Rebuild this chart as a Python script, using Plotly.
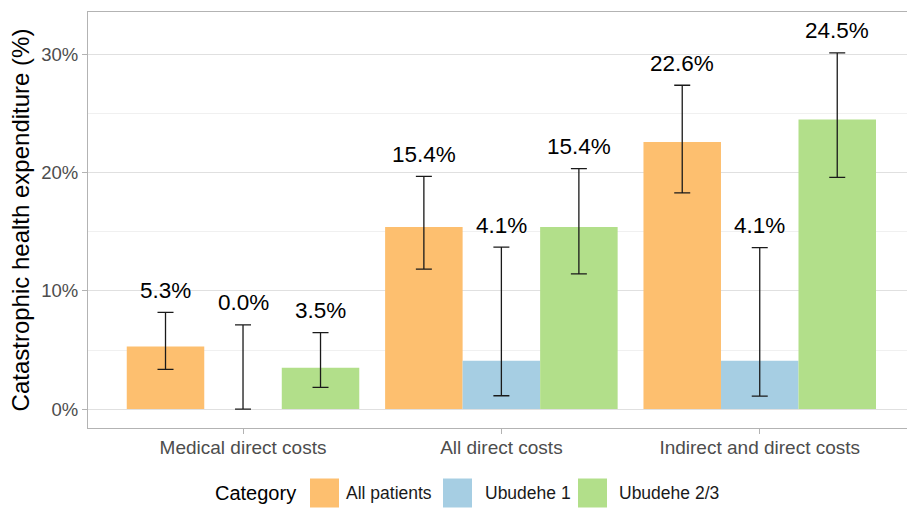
import plotly.graph_objects as go

# ---- data ----
categories = ["Medical direct costs", "All direct costs", "Indirect and direct costs"]
groups = ["All patients", "Ubudehe 1", "Ubudehe 2/3"]
colors = ["#FDBF6F", "#A6CEE3", "#B2DF8A"]

all_patients = [5.3, 15.4, 22.6]
all_patients_lo = [3.36, 11.84, 18.3]
all_patients_hi = [8.19, 19.69, 27.4]

ubudehe1 = [0.0, 4.1, 4.1]
ubudehe1_lo = [0.0, 1.13, 1.1]
ubudehe1_hi = [7.12, 13.7, 13.67]

ubudehe23 = [3.5, 15.4, 24.5]
ubudehe23_lo = [1.84, 11.44, 19.6]
ubudehe23_hi = [6.47, 20.34, 30.14]

y_ticks = [0, 10, 20, 30]
y_tick_labels = ["0%", "10%", "20%", "30%"]
y_minor = [5, 15, 25]

series = [
    (all_patients, all_patients_lo, all_patients_hi),
    (ubudehe1, ubudehe1_lo, ubudehe1_hi),
    (ubudehe23, ubudehe23_lo, ubudehe23_hi),
]

BAR_W = 0.3
FONT = "Liberation Sans, Arial, Helvetica, sans-serif"

fig = go.Figure()
annotations = []
for k, (vals, lo, hi) in enumerate(series):
    xs = [i + (k - 1) * BAR_W for i in range(len(categories))]
    fig.add_trace(go.Bar(
        x=xs, y=vals, width=BAR_W, name=groups[k],
        marker=dict(color=colors[k], line=dict(width=0)),
        error_y=dict(type="data", symmetric=False,
                     array=[h - v for h, v in zip(hi, vals)],
                     arrayminus=[v - l for v, l in zip(vals, lo)],
                     color="#1a1a1a", thickness=1.3, width=8),
        showlegend=False, hoverinfo="skip",
    ))
    for x, v, h in zip(xs, vals, hi):
        annotations.append(dict(
            x=x, y=h, xref="x", yref="y", text=f"{v:.1f}%",
            showarrow=False, yanchor="middle", xanchor="center", yshift=22,
            font=dict(size=22.5, color="#000000", family=FONT),
        ))

# ---- custom legend below the plot (pixel layout -> paper coords) ----
L, R, T, B = 88, 907, 12, 428
PW, PH = R - L, B - T
def px(xp):
    return (xp - L) / PW
def py(yp):
    return (B - yp) / PH

leg_y = 493
annotations.append(dict(x=px(213), y=py(leg_y), xref="paper", yref="paper",
                        text="Category", showarrow=False, xanchor="left", yanchor="middle",
                        font=dict(size=20, color="#000000", family=FONT)))
sw_left = [310, 443, 578]
lab_left = [344, 483, 617]
shapes = []
for k in range(3):
    shapes.append(dict(type="rect", xref="paper", yref="paper",
                       x0=px(sw_left[k]), x1=px(sw_left[k] + 29),
                       y0=py(leg_y + 14.5), y1=py(leg_y - 14.5),
                       fillcolor=colors[k], line=dict(width=0), layer="above"))
    annotations.append(dict(x=px(lab_left[k]), y=py(leg_y), xref="paper", yref="paper",
                            text=groups[k], showarrow=False, xanchor="left", yanchor="middle",
                            font=dict(size=17.5, color="#1a1a1a", family=FONT)))

fig.update_layout(
    width=907, height=510, autosize=False,
    margin=dict(l=L, r=0, t=T, b=510 - B),
    paper_bgcolor="white", plot_bgcolor="white",
    font=dict(family=FONT),
    barmode="overlay",
    annotations=annotations,
    shapes=shapes,
    showlegend=False,
)
fig.update_xaxes(
    range=[-0.6, 2.57], tickvals=list(range(len(categories))), ticktext=categories,
    showgrid=False, zeroline=False,
    showline=True, mirror=True, linecolor="#B3B3B3", linewidth=1,
    ticks="outside", ticklen=5, tickcolor="#B3B3B3",
    ticklabelstandoff=-3,
    tickfont=dict(size=19, color="#4D4D4D", family=FONT),
)
fig.update_yaxes(
    range=[-1.6, 33.6], tickvals=y_ticks, ticktext=y_tick_labels,
    showgrid=True, gridcolor="#E0E0E0", gridwidth=1, zeroline=False,
    minor=dict(tickvals=y_minor, showgrid=True, gridcolor="#F0F0F0", gridwidth=0.8, ticks=""),
    showline=True, mirror=False, linecolor="#B3B3B3", linewidth=1,
    ticks="outside", ticklen=5, tickcolor="#B3B3B3",
    tickfont=dict(size=18.5, color="#4D4D4D", family=FONT),
    title=dict(text="Catastrophic health expenditure (%)", standoff=4,
               font=dict(size=24, color="#000000", family=FONT)),
)

fig.write_html("out.html", config={"displayModeBar": False},
               post_script="document.body.style.margin='0px';document.body.style.overflow='hidden';")
